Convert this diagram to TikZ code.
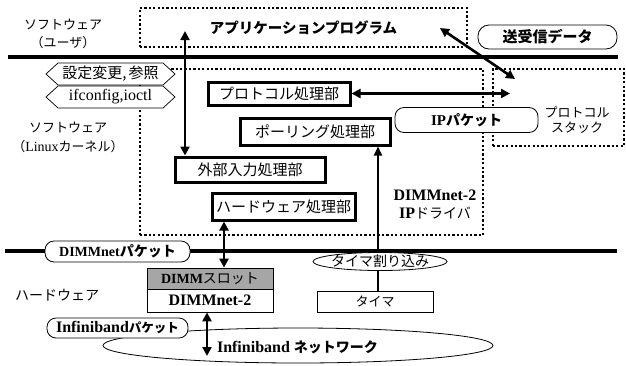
\documentclass[tikz,border=0pt]{standalone}
\usepackage{fontspec}
\setmainfont{Liberation Serif}
\newfontfamily\jp{Noto Sans CJK JP}
\usetikzlibrary{arrows.meta,shapes.geometric}
\newcommand\J[1]{{\jp #1}}
\newcommand\fs[2]{\fontsize{#1}{#2}\selectfont}
\begin{document}
\begin{tikzpicture}[x=1pt,y=-1pt,
  sepline/.style={line width=3.5pt},
  dotbox/.style={draw, line width=2.5pt, dash pattern=on 2.2pt off 2.2pt, inner sep=0pt},
  procbox/.style={draw, line width=3pt, fill=white, inner sep=0pt, font=\jp\fs{15}{15}},
  pill/.style={draw, line width=0.8pt, rounded corners=9pt, fill=white, inner sep=0pt},
  thinbox/.style={draw, line width=0.8pt, fill=white, inner sep=0pt},
  hexshape/.style={draw, line width=0.7pt, fill=white},
  lbl/.style={inner sep=0pt, align=center},
  dar/.style={line width=2.6pt, {Triangle[length=9pt,width=9pt]}-{Triangle[length=9pt,width=9pt]}},
  sar/.style={line width=2pt, -{Triangle[length=9pt,width=8pt]}},
]
\useasboundingbox (0,0) rectangle (626,365);
\fill[white] (0,0) rectangle (626,365);

% separators
\draw[sepline] (8,57) -- (618,57);
\draw[sepline] (5,251) -- (617,251);

% dotted boxes
\node[dotbox, minimum width=327pt, minimum height=39pt, font=\jp\bfseries\fs{14.5}{14.5}] (app) at (303.5,27.5) {アプリケーションプログラム};
\node[dotbox, minimum width=343pt, minimum height=166pt] (drv) at (311.5,152) {};
\node[dotbox, minimum width=131pt, minimum height=77pt] (stack) at (558.5,107.5) {};
\node[lbl, font=\jp\fs{13}{15}] (stacktxt) at (577,120.5) {プロトコル\\スタック};

% network ellipse
\node[ellipse, draw, line width=0.8pt, minimum width=390pt, minimum height=35pt, inner sep=0pt] (ib) at (298,345.5) {};
\node[lbl, font=\bfseries\fs{16}{16}] (ibtxt) at (297.5,347) {Infiniband \J{\fs{14}{14}ネットワーク}};

% labels
\node[pill, rounded corners=11pt, minimum width=139pt, minimum height=24pt, font=\jp\bfseries\fs{15}{15}] (send) at (547.5,37) {送受信データ};
\node[lbl, font=\jp\fs{13}{18}] (user) at (63,34) {ソフトウェア\\（ユーザ）};
\node[lbl, font=\jp\fs{13}{19}] (kern) at (68,137.5) {ソフトウェア\\（{\rmfamily\fs{14}{14}Linux}カーネル）};
\node[lbl, font=\jp\fs{14}{14}] (hwl) at (57,295) {ハードウェア};

\draw[hexshape] (46,74) -- (58,63) -- (163,63) -- (175,74) -- (163,85) -- (58,85) -- cycle;
\node[lbl, font=\jp\fs{15}{15}] (cfg) at (110.5,74) {設定変更,\hspace{2pt}参照};
\draw[hexshape] (46,97) -- (58,86) -- (163,86) -- (175,97) -- (163,108) -- (58,108) -- cycle;
\node[lbl, font=\fs{16}{16}] (ifc) at (110.5,96.5) {ifconfig,ioctl};

% processing boxes
\node[procbox, minimum width=142pt, minimum height=23pt] (proto) at (279,93.5) {プロトコル処理部};
\node[procbox, minimum width=150pt, minimum height=27pt] (poll) at (315,131.5) {ポーリング処理部};
\node[procbox, minimum width=150pt, minimum height=25pt] (ext) at (250,169.5) {外部入力処理部};
\node[procbox, minimum width=143pt, minimum height=27pt] (hw) at (283.5,206.5) {ハードウェア処理部};

\node[pill, minimum width=143pt, minimum height=25pt, font=\bfseries\fs{15}{15}] (ip) at (466.5,120) {IP\J{\fs{14}{14}パケット}};
\node[lbl, font=\bfseries\fs{16}{18}] (drvtxt) at (435,204) {DIMMnet-2\\IP\J{\mdseries\fs{14}{14}ドライバ}};

% hardware
\node[pill, minimum width=145pt, minimum height=21pt, font=\bfseries\fs{14}{14}] (dpkt) at (117.5,251.5) {DIMMnet\J{パケット}};
\node[thinbox, fill=black!35, minimum width=126pt, minimum height=21pt, font=\fs{14}{14}] (slot) at (210,278.5) {\textbf{DIMM}\J{スロット}};
\node[thinbox, minimum width=126pt, minimum height=23pt, font=\bfseries\fs{16}{16}] (dimm) at (210,300.5) {DIMMnet-2};
\node[thinbox, minimum width=116pt, minimum height=21pt, font=\jp\fs{13}{13}] (timer) at (375,301.5) {タイマ};
\node[pill, minimum width=141pt, minimum height=20pt, font=\bfseries\fs{16}{16}] (ipkt) at (117.5,328) {Infiniband\J{\fs{12.5}{12.5}パケット}};

% connectors
\coordinate (appin) at (185,31);
\draw[dar] (appin) -- (appin |- ext.north);
\coordinate (appr) at (440,28);
\coordinate (stkin) at (515,79);
\draw[dar] (appr) -- (stkin);
\coordinate (stkl) at (510,93.5);
\draw[dar] (proto.east) -- (stkl);
\coordinate (tx) at (378,0);
\draw[sar] (timer.north -| tx) -- (poll.south -| tx);
\coordinate (hx) at (224,0);
\draw[dar] (hw.south -| hx) -- (slot.north -| hx);
\coordinate (ibin) at (207,356);
\draw[dar] (dimm.south -| ibin) -- (ibin);

% timer interrupt
\node[ellipse, draw, line width=0.8pt, fill=white, minimum width=134pt, minimum height=18pt, inner sep=0pt] (tint) at (380,261.5) {};
\node[lbl, font=\jp\fs{14}{14}] (tinttxt) at (tint) {タイマ割り込み};
\end{tikzpicture}
\end{document}
